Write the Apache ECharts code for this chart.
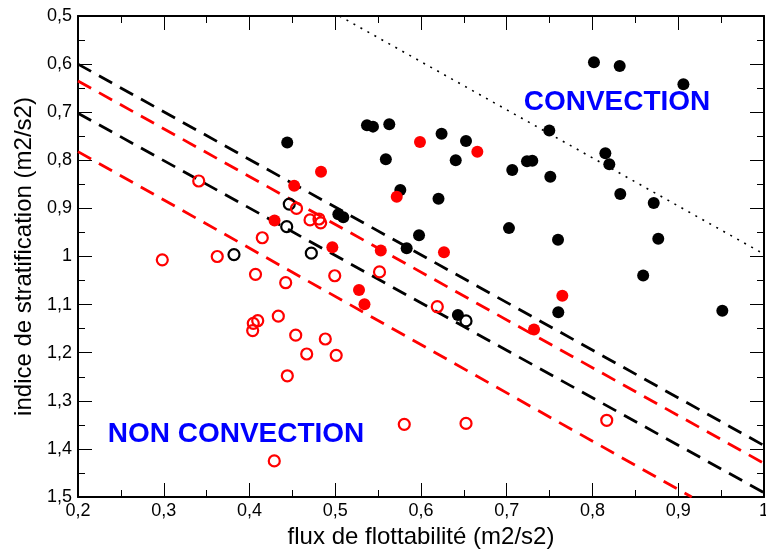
<!DOCTYPE html>
<html>
<head>
<meta charset="utf-8">
<script src="https://cdn.jsdelivr.net/npm/echarts@6/dist/echarts.min.js"></script>
<style>
html,body{margin:0;padding:0;background:#fff;}
#chart{width:766px;height:551px;}
</style>
</head>
<body>
<div id="chart"></div>
<script>
// ---- Data (x = flux de flottabilité, y = indice de stratification) ----
var xTickLabels = ['0,2','0,3','0,4','0,5','0,6','0,7','0,8','0,9','1'];
var yTickLabels = ['0,5','0,6','0,7','0,8','0,9','1','1,1','1,2','1,3','1,4','1,5'];

var blackFilled = [
  [0.444,0.763],[0.537,0.727],[0.544,0.730],[0.563,0.725],[0.559,0.798],
  [0.624,0.745],[0.6525,0.760],[0.6405,0.800],[0.7496,0.738],[0.7236,0.802],
  [0.7298,0.801],[0.7064,0.820],[0.7508,0.834],[0.8017,0.596],[0.8317,0.604],
  [0.906,0.642],[0.815,0.7855],[0.8196,0.808],[0.5759,0.8617],[0.6204,0.880],
  [0.8324,0.870],[0.8714,0.889],[0.8767,0.963],[0.7598,0.965],[0.7026,0.941],
  [0.5977,0.956],[0.5833,0.983],[0.5036,0.912],[0.5094,0.9185],[0.8591,1.0395],
  [0.9514,1.1127],[0.643,1.1216],[0.7601,1.116]
];
var blackOpen = [
  [0.4464,0.891],[0.4434,0.938],[0.3819,0.996],[0.4721,0.993],[0.6525,1.134]
];
var redFilled = [
  [0.4834,0.824],[0.4521,0.853],[0.4292,0.925],[0.4966,0.981],[0.5531,0.9875],
  [0.5988,0.762],[0.6657,0.782],[0.5717,0.876],[0.6268,0.991],[0.5277,1.0696],
  [0.5341,1.0994],[0.7648,1.0815],[0.7318,1.152]
];
var redOpen = [
  [0.3408,0.843],[0.4548,0.900],[0.4706,0.924],[0.481,0.922],[0.483,0.930],
  [0.4149,0.961],[0.2983,1.007],[0.3624,1.000],[0.407,1.037],[0.4422,1.0545],
  [0.4994,1.040],[0.5516,1.032],[0.4336,1.124],[0.4096,1.1335],[0.4044,1.139],
  [0.4037,1.154],[0.4539,1.1636],[0.4884,1.1715],[0.4667,1.2027],[0.5011,1.2054],
  [0.4441,1.248],[0.4289,1.425],[0.5805,1.349],[0.6525,1.347],[0.8166,1.3405],
  [0.619,1.1044]
];
var blackLineUpper = [[0.2,0.600],[1.0,1.393]];
var redLineUpper   = [[0.2,0.635],[1.0,1.430]];
var blackLineLower = [[0.2,0.702],[1.0,1.491]];
var redLineLower   = [[0.2,0.782],[0.9157,1.5]];
var dottedLine     = [[0.505,0.5],[1.0,0.995]];

var xName = 'flux de flottabilité (m2/s2)';
var yName = 'indice de stratification (m2/s2)';
var labelConvection = 'CONVECTION';
var labelNonConvection = 'NON CONVECTION';

// ---- Chart ----
var FONT = '"Liberation Sans", Arial, Helvetica, sans-serif';
var chart = echarts.init(document.getElementById('chart'), null, {renderer:'canvas'});

function xFmt(v){ return xTickLabels[Math.round((v - 0.2) / 0.1)] || ''; }
function yFmt(v){ return yTickLabels[Math.round((v - 0.5) / 0.1)] || ''; }

function baseAxis(extra){
  var a = {
    type:'value',
    splitLine:{show:false},
    axisLine:{show:true, onZero:false, lineStyle:{color:'#000', width:2}},
    axisTick:{show:true, inside:true, length:14, lineStyle:{color:'#000', width:1}},
    minorTick:{show:true, splitNumber:2, length:7, lineStyle:{color:'#000', width:1}},
    minorSplitLine:{show:false}
  };
  for (var k in extra) a[k] = extra[k];
  return a;
}

function lineSeries(data, color, type, width){
  return {
    type:'line', data:data, xAxisIndex:0, yAxisIndex:0,
    symbol:'none', silent:true, animation:false, z:2,
    lineStyle:{color:color, width:width, type:type, cap:'butt'}
  };
}
function scatterSeries(data, color, filled){
  return {
    type:'scatter', data:data, xAxisIndex:0, yAxisIndex:0,
    symbol:'circle', symbolSize: filled ? 12 : 11, animation:false, z:5,
    itemStyle: filled ? {color:color, opacity:1} : {color:'rgba(255,255,255,0)', borderColor:color, borderWidth:2.2, opacity:1}
  };
}

var option = {
  backgroundColor:'#fff',
  animation:false,
  grid:{left:78, right:2, top:16, bottom:54, containLabel:false, outerBoundsMode:'none'},
  xAxis:[
    baseAxis({
      position:'bottom', min:0.2, max:1.0, interval:0.1,
      name:xName, nameLocation:'middle', nameGap:26,
      nameTextStyle:{fontFamily:FONT, fontSize:24, color:'#000'},
      axisLabel:{show:true, formatter:xFmt, fontFamily:FONT, fontSize:18, color:'#000', margin:5}
    }),
    baseAxis({
      position:'top', min:0.2, max:1.0, interval:0.1,
      axisLabel:{show:false}
    })
  ],
  yAxis:[
    baseAxis({
      position:'left', min:0.5, max:1.5, interval:0.1, inverse:true,
      name:yName, nameLocation:'middle', nameGap:40,
      nameTextStyle:{fontFamily:FONT, fontSize:24, color:'#000'},
      axisLabel:{show:true, formatter:yFmt, fontFamily:FONT, fontSize:18, color:'#000', margin:6}
    }),
    baseAxis({
      position:'right', min:0.5, max:1.5, interval:0.1, inverse:true,
      axisLabel:{show:false}
    })
  ],
  series:[
    lineSeries(dottedLine, '#000', [2,6], 1.6),
    lineSeries(blackLineUpper, '#000', [15,9], 2.8),
    lineSeries(redLineUpper, '#ff0000', [15,9], 2.8),
    lineSeries(blackLineLower, '#000', [15,9], 2.8),
    lineSeries(redLineLower, '#ff0000', [15,9], 2.8),
    scatterSeries(blackFilled, '#000', true),
    scatterSeries(redFilled, '#ff0000', true),
    scatterSeries(blackOpen, '#000', false),
    scatterSeries(redOpen, '#ff0000', false)
  ],
  graphic:[
    {type:'text', x:617, y:102, z:10, style:{text:labelConvection, fill:'#0000ff', font:'bold 28px ' + FONT, align:'center', verticalAlign:'middle'}},
    {type:'text', x:236, y:434, z:10, style:{text:labelNonConvection, fill:'#0000ff', font:'bold 28px ' + FONT, align:'center', verticalAlign:'middle'}}
  ]
};
chart.setOption(option);
</script>
</body>
</html>
